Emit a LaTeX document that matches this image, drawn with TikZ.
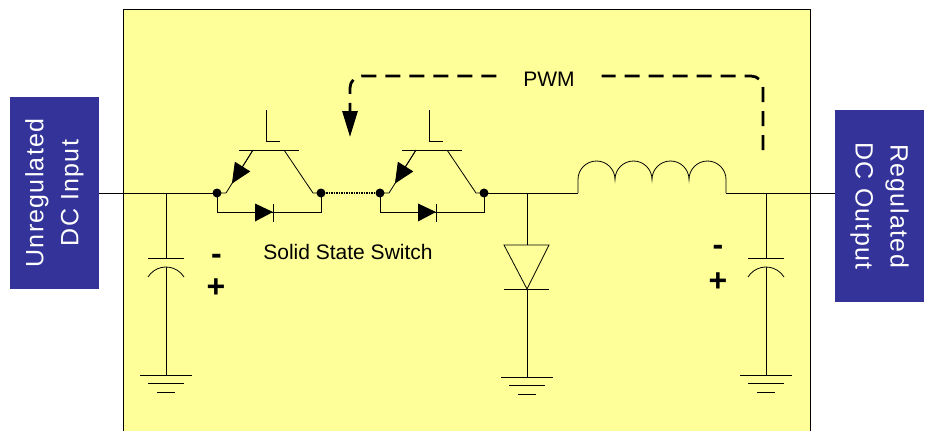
\documentclass[tikz,border=0pt]{standalone}
\usepackage{fontspec}
\setmainfont{Liberation Sans}
\usetikzlibrary{arrows.meta,calc}

\definecolor{panelyellow}{RGB}{255,255,153}
\definecolor{portblue}{RGB}{51,51,153}

\tikzset{
  gnd/.pic={
    \draw[line width=0.8pt] (-26,0) -- (26,0);
    \draw[line width=0.8pt] (-18,8) -- (18,8);
    \draw[line width=0.8pt] (-9,17) -- (9,17);
  },
  cap/.pic={
    \draw[line width=0.8pt] (-18,0) -- (18,0);
    \draw[line width=0.8pt] (-18,19) arc[start angle=211.9, end angle=328.1, radius=21.2];
  }
}

\begin{document}
\begin{tikzpicture}[x=1pt,y=-1pt,
  wire/.style={line width=0.8pt},
  port/.style={fill=portblue, text=white, minimum width=192pt, minimum height=89pt,
    inner sep=0pt, align=center,
    font=\fontsize{25}{35}\selectfont\addfontfeature{LetterSpace=5}},
  pwmline/.style={line width=2.8pt, dash pattern=on 15pt off 9pt, rounded corners=12pt},
  sign/.style={font=\fontsize{32}{32}\selectfont\bfseries, inner sep=0pt},
  label/.style={font=\fontsize{21}{24}\selectfont, inner sep=0pt}]

\useasboundingbox (0,0) rectangle (930,431);

% Parameters (layout in pixels)
\def\wy{193}   % main wire
\def\gy{375}   % ground of the capacitors

% Yellow panel
\draw[fill=panelyellow, line width=0.8pt] (123,9) rectangle (810,445);

% Input and output ports
\node[port, rotate=90]  (vin)  at (54.5,\wy) {Unregulated\\DC Input};
\node[port, rotate=-90] (vout) at (879.5,206) {Regulated\\DC Output};

% Junctions on the main wire
\coordinate (J1) at (166,\wy);
\coordinate (J2) at (527,\wy);
\coordinate (La) at (578,\wy);
\coordinate (Lb) at (726,\wy);
\coordinate (J3) at (766,\wy);

% Solid state switches (transistor with diode)
\foreach \s/\dx in {1/0, 2/163}{
  \begin{scope}[shift={(\dx,0)}]
    \coordinate (E\s) at (217,\wy);
    \coordinate (K\s) at (226,\wy);
    \coordinate (B\s) at (253,150);
    \coordinate (C\s) at (321,\wy);
    % emitter with arrow
    \draw[wire] (E\s) -- (K\s) -- (B\s);
    \draw[wire, -{Triangle[length=20pt,width=18pt]}] (B\s) -- ($(K\s)!0.22!(B\s)$);
    % base bar and lead
    \draw[wire] (239,150) -- (299,150);
    \draw[wire] (266,110) -- (266,141) -- (280,141);
    % collector
    \draw[wire] (284,150) -- (313,\wy) -- (C\s);
    % diode across the switch
    \draw[wire] (E\s) -- (217,212) -- (321,212) -- (C\s);
    \fill (255,203.5) -- (273,212) -- (255,221.5) -- cycle;
    \draw[wire] (273,203.5) -- (273,221.5);
    \fill (E\s) circle (4.5);
    \fill (C\s) circle (4.5);
  \end{scope}
}

% Main wire
\draw[wire] (vin.south) -- (E1);
\draw[line width=2.6pt, dash pattern=on 1.8pt off 0.7pt] (C1) -- (E2);
\draw[wire] (C2) -- (La);

% Inductor
\draw[wire] (La) -- (578,179.5)
  arc[start angle=180, end angle=360, radius=18.5]
  arc[start angle=180, end angle=360, radius=18.5]
  arc[start angle=180, end angle=360, radius=18.5]
  arc[start angle=180, end angle=360, radius=18.5] -- (Lb);
\draw[wire] (Lb) -- (vout.south |- Lb);

% Input capacitor
\coordinate (C1top) at (166,258);
\draw[wire] (J1) -- (C1top);
\pic at (C1top) {cap};
\draw[wire] (166,267) -- (166,\gy);
\pic at (166,\gy) {gnd};

% Freewheel diode
\draw[wire] (J2) -- (527,245);
\draw[wire] (504,245) -- (549,245) -- (527,289) -- cycle;
\draw[wire] (504,289) -- (549,289);
\draw[wire] (527,289) -- (527,377);
\pic at (527,377) {gnd};

% Output capacitor
\coordinate (C2top) at (766,258);
\draw[wire] (J3) -- (C2top);
\pic at (C2top) {cap};
\draw[wire] (766,267) -- (766,\gy);
\pic at (766,\gy) {gnd};

% Polarity signs
\node[sign] (m1) at (216.5,259) {-};
\node[sign] (p1) at (216,288) {+};
\node[sign] (m2) at (718,250.5) {-};
\node[sign] (p2) at (718,282) {+};

% Labels
\node[label] (sw) at (348,252) {Solid State Switch};
\node[label, fill=panelyellow, minimum width=105pt] (pwm) at (549,79) {PWM};

% PWM feedback
\coordinate (fb)   at (763,150);
\coordinate (tip)  at (350,137);
\coordinate (pwmy) at (549,76);
\draw[pwmline] (fb) |- (pwm.east |- pwmy);
\draw[pwmline, -{Triangle[length=26pt,width=15pt]}] (pwm.west |- pwmy) -| (tip);

\end{tikzpicture}
\end{document}
